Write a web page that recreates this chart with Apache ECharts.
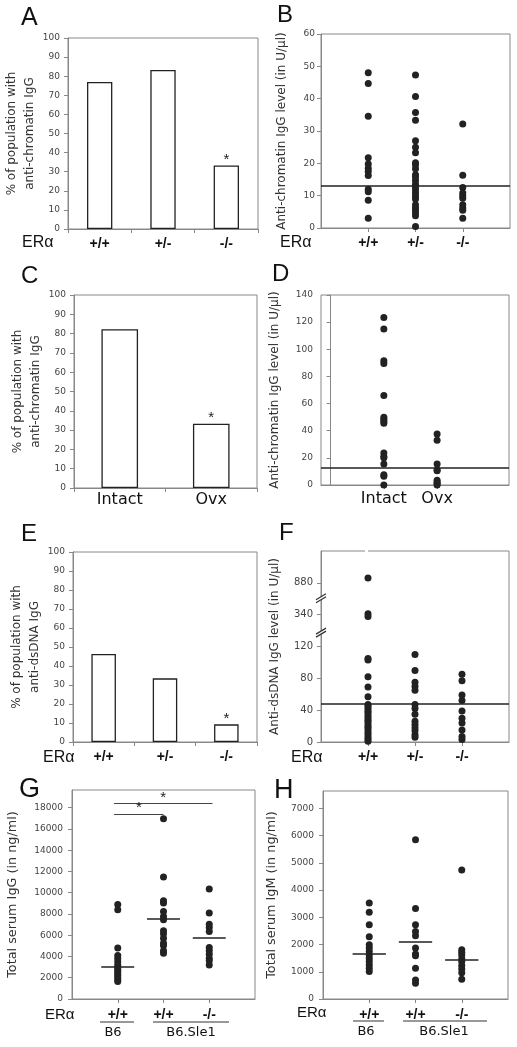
<!DOCTYPE html>
<html><head><meta charset="utf-8">
<script src="https://cdn.jsdelivr.net/npm/echarts@6/dist/echarts.min.js"></script>
<style>html,body{margin:0;padding:0;background:#fff}#c{width:517px;height:1047px}</style>
</head><body><div id="c"></div>
<script>
// ---------- data ----------
const eraCats = ['+/+', '+/-', '-/-'];
const ovxCats = ['Intact', 'Ovx'];
const igCats = ['+/+', '+/+', '-/-'];

// A
const pctChromatinERa = [77, 83.3, 33.3];
const sigChromatinERa = ['', '', '*'];
// B
const chromatinPP = [48, 44.7, 34.6, 21.7, 19.8, 18.5, 17.5, 16.2, 12, 11.2, 8.6, 3];
const chromatinPM = [47.3, 40.7, 35.7, 33.3, 27, 25, 23.3, 20.2, 19.6, 18.3, 16.5, 15.8, 14.7, 13.5, 12.7, 11.8, 10.8, 9.8, 9, 7.2, 6.3, 5.5, 4.7, 3.8, 0.5];
const chromatinMM = [32.2, 16.3, 12.5, 10.8, 10, 9.2, 7.2, 6.2, 5.5, 3];
const chromatinCutoff = 13;
// C
const pctChromatinOvx = [82.3, 33.3];
const sigChromatinOvx = ['', '*'];
// D
const chromatinIntact = [123.5, 115, 91.5, 89.5, 66, 50, 48.5, 47, 45.5, 23.5, 21, 20, 15.5, 7.5, 6.5, 0];
const chromatinOvx = [37.5, 33, 15.5, 11, 10.5, 3.5, 2, 1, 0];
// E
const pctDsdnaERa = [46.3, 33.5, 9.3];
const sigDsdnaERa = ['', '', '*'];
// F
const dsdnaPP = [960, 355, 328, 105, 103, 82, 69, 57, 47, 45, 42, 39, 37, 34, 31, 28, 26, 23, 20, 18, 15, 12, 9, 6, 3, 1];
const dsdnaPM = [110, 90, 75, 70, 65, 47, 42, 35, 26, 22, 18, 14, 9, 6];
const dsdnaMM = [85, 77, 59, 52, 39, 30, 24, 15, 7, 3];
const dsdnaCutoff = 48;
const dsdnaTicks = [0, 40, 80, 120, 340, 880];
// G
const iggB6 = [8900, 8400, 4800, 4100, 3800, 3500, 3200, 3000, 2800, 2600, 2400, 2200, 2000, 1800, 1650];
const iggSle1PP = [16950, 11480, 9250, 9030, 8240, 7770, 7450, 6420, 6130, 5720, 5250, 5030, 4530, 4310];
const iggSle1MM = [10350, 8080, 7040, 6730, 6350, 4840, 4530, 4210, 3840, 3590, 3210];
const iggMedians = [3080, 7550, 5750];
const iggTicks = [0, 2000, 4000, 6000, 8000, 10000, 12000, 14000, 16000, 18000];
// H
const igmB6 = [3530, 3190, 2730, 2290, 1990, 1870, 1745, 1620, 1500, 1380, 1250, 1130, 1010];
const igmSle1PP = [5850, 3320, 2730, 2480, 2320, 1870, 1650, 1585, 1130, 700, 580];
const igmSle1MM = [4740, 1810, 1720, 1620, 1475, 1380, 1230, 1105, 960, 725];
const igmMedians = [1670, 2100, 1440];
const igmTicks = [0, 1000, 2000, 3000, 4000, 5000, 6000, 7000];

// ---------- helpers ----------
const FONT = 'DejaVu Sans';
const SANS = 'Liberation Sans';
const AX = '#888';
const INK = '#222';

function brk(v) { // broken-axis transform for panel F
  if (v <= 120) return v / 40;
  if (v <= 340) return 3 + (v - 120) / 220;
  return 4 + (v - 340) / 540;
}

function yAxisV(gi, min, max, interval, name, gap, margin, nameSize, extra) {
  const a = {
    type: 'value', gridIndex: gi, min: min, max: max,
    splitLine: { show: false },
    axisLine: { show: true, lineStyle: { color: AX, width: 1 } },
    axisTick: { show: true, length: 4, lineStyle: { color: AX } },
    axisLabel: { fontSize: 9, color: '#444', fontFamily: FONT, margin: margin, formatter: v => String(v) },
    name: name, nameLocation: 'middle', nameRotate: 90, nameGap: gap,
    nameTextStyle: { fontSize: nameSize, color: '#333', fontFamily: FONT, lineHeight: 18 }
  };
  if (interval) a.interval = interval;
  if (extra) extra(a);
  return a;
}
function xAxisCat(gi, data, fs, margin, font) {
  return {
    type: 'category', gridIndex: gi, data: data,
    axisLine: { lineStyle: { color: AX } },
    axisTick: { show: true, length: 4, lineStyle: { color: AX } },
    axisLabel: { fontSize: fs, color: '#111', fontFamily: font, margin: margin, fontWeight: font === SANS ? 'bold' : 'normal' },
    splitLine: { show: false }
  };
}
function xAxisPos(gi, min, max, vals, labels, fs, margin, font) {
  return {
    type: 'value', gridIndex: gi, min: min, max: max,
    splitLine: { show: false },
    axisLine: { lineStyle: { color: AX } },
    axisTick: { show: true, length: 4, customValues: vals, lineStyle: { color: AX } },
    axisLabel: {
      customValues: vals, fontSize: fs, color: '#111', fontFamily: font, margin: margin,
      fontWeight: font === SANS ? 'bold' : 'normal',
      formatter: function (v) {
        const i = vals.findIndex(p => Math.abs(p - v) < 1e-6);
        return i >= 0 ? labels[i] : '';
      }
    }
  };
}
function barSeries(gi, vals, sig) {
  return {
    type: 'bar', xAxisIndex: gi, yAxisIndex: gi, barWidth: '40%',
    itemStyle: { color: '#fff', borderColor: INK, borderWidth: 1.3 },
    label: { show: false, position: 'top', fontSize: 15, color: INK, distance: -2, fontFamily: SANS },
    data: vals.map((v, i) => ({ value: v, label: { show: !!sig[i], formatter: sig[i] } }))
  };
}
function dots(gi, groups, offset, tf) {
  const data = [];
  groups.forEach((g, i) => g.forEach(v => data.push([i + offset, tf ? tf(v) : v])));
  return { type: 'scatter', xAxisIndex: gi, yAxisIndex: gi, symbolSize: 7, itemStyle: { color: INK, opacity: 1 }, data: data };
}
function cutoffLine(y) {
  return { silent: true, symbol: ['none', 'none'], label: { show: false },
    lineStyle: { color: INK, width: 1.5, type: 'solid' }, data: [{ yAxis: y }] };
}
function medianLines(meds, half) {
  return { silent: true, symbol: ['none', 'none'], label: { show: false },
    lineStyle: { color: INK, width: 1.6, type: 'solid' },
    data: meds.map((m, i) => [{ coord: [i + 1 - half, m] }, { coord: [i + 1 + half, m] }]) };
}

const grids = [
  { left: 68, top: 38, width: 190, height: 191 },   // A
  { left: 321, top: 34, width: 189, height: 194 },  // B
  { left: 74, top: 295, width: 183, height: 193 },  // C
  { left: 321, top: 295, width: 188, height: 190 }, // D
  { left: 73, top: 552, width: 184, height: 190 },  // E
  { left: 321, top: 551, width: 188, height: 191 }, // F
  { left: 72, top: 790, width: 183, height: 209 },  // G
  { left: 323, top: 791, width: 185, height: 208 }  // H
].map(g => Object.assign({ show: true, borderColor: AX, borderWidth: 1, backgroundColor: 'transparent' }, g));

const xAxes = [
  xAxisCat(0, eraCats, 14, 8, SANS),
  xAxisPos(1, 0, 4, [1, 2, 3], eraCats, 14, 8, SANS),
  xAxisCat(2, ovxCats, 16, 4, FONT),
  xAxisPos(3, -0.18, 3.35, [1, 2], ovxCats, 16, 6, FONT),
  xAxisCat(4, eraCats, 14, 8, SANS),
  xAxisPos(5, 0, 4, [1, 2, 3], eraCats, 14, 8, SANS),
  xAxisPos(6, 0, 4, [1, 2, 3], igCats, 14, 9, SANS),
  xAxisPos(7, 0, 4, [1, 2, 3], igCats, 14, 9, SANS)
];

const yAxes = [
  yAxisV(0, 0, 100, 10, '% of population with\nanti-chromatin IgG', 28, 8, 12),
  yAxisV(1, 0, 60, 10, 'Anti-chromatin IgG level (in U/\u03bcl)', 30, 6, 12),
  yAxisV(2, 0, 100, 10, '% of population with\nanti-chromatin IgG', 29, 8, 12),
  yAxisV(3, 0, 140, 20, 'Anti-chromatin IgG level (in U/\u03bcl)', 37, 8, 12),
  yAxisV(4, 0, 100, 10, '% of population with\nanti-dsDNA IgG', 29, 8, 12),
  yAxisV(5, 0, 6, null, 'Anti-dsDNA IgG level (in U/\u03bcl)', 37, 8, 12, a => {
    const pos = dsdnaTicks.map(brk);
    a.axisTick.customValues = pos;
    a.axisLabel.customValues = pos;
    a.axisLabel.fontSize = 10;
    a.axisLabel.formatter = v => { const i = pos.findIndex(p => Math.abs(p - v) < 1e-6); return i >= 0 ? String(dsdnaTicks[i]) : ''; };
  }),
  yAxisV(6, 0, 19660, null, 'Total serum IgG (in ng/ml)', 50, 9, 12.8, a => {
    a.axisTick.customValues = iggTicks; a.axisLabel.customValues = iggTicks;
  }),
  yAxisV(7, 0, 7640, null, 'Total serum IgM (in ng/ml)', 42, 9, 12.8, a => {
    a.axisTick.customValues = igmTicks; a.axisLabel.customValues = igmTicks;
  })
];

const sB = dots(1, [chromatinPP, chromatinPM, chromatinMM], 1); sB.markLine = cutoffLine(chromatinCutoff);
const sD = dots(3, [chromatinIntact, chromatinOvx], 1); sD.markLine = cutoffLine(chromatinCutoff);
const sF = dots(5, [dsdnaPP, dsdnaPM, dsdnaMM], 1, brk); sF.markLine = cutoffLine(brk(dsdnaCutoff));
const sG = dots(6, [iggB6, iggSle1PP, iggSle1MM], 1); sG.markLine = medianLines(iggMedians, 0.36);
const sH = dots(7, [igmB6, igmSle1PP, igmSle1MM], 1); sH.markLine = medianLines(igmMedians, 0.36);
const sGsig = {
  type: 'scatter', xAxisIndex: 6, yAxisIndex: 6, data: [],
  markLine: {
    silent: true, symbol: ['none', 'none'],
    lineStyle: { color: '#444', width: 1, type: 'solid' },
    label: { show: true, position: 'insideMiddleTop', formatter: '*', fontSize: 15, color: INK, fontFamily: SANS, distance: -2 },
    data: [
      [{ coord: [0.92, 18400] }, { coord: [3.07, 18400] }],
      [{ coord: [0.92, 17420] }, { coord: [2.0, 17420] }]
    ]
  }
};

const series = [
  barSeries(0, pctChromatinERa, sigChromatinERa), sB,
  barSeries(2, pctChromatinOvx, sigChromatinOvx), sD,
  barSeries(4, pctDsdnaERa, sigDsdnaERa), sF,
  sG, sGsig, sH
];

function txt(x, y, s, fs, font, align) {
  return { type: 'text', x: x, y: y, silent: true,
    style: { text: s, fontSize: fs, fontFamily: font || SANS, fill: '#111', align: align || 'left', verticalAlign: 'middle' } };
}
function hline(x1, x2, y) {
  return { type: 'line', silent: true, shape: { x1: x1, y1: y, x2: x2, y2: y }, style: { stroke: '#333', lineWidth: 1 } };
}

const graphic = [
  txt(21, 18, 'A', 25), txt(277, 15, 'B', 24), txt(21, 276, 'C', 24), txt(272, 274, 'D', 24),
  txt(21, 534, 'E', 24), txt(279, 533, 'F', 24), txt(19, 790, 'G', 27), txt(274, 791, 'H', 27),
  txt(22, 243, 'ER\u03b1', 16), txt(280, 243, 'ER\u03b1', 16),
  txt(43, 758, 'ER\u03b1', 16), txt(291, 758, 'ER\u03b1', 16),
  txt(45, 1015, 'ER\u03b1', 15), txt(297, 1013, 'ER\u03b1', 15),
  hline(100, 134, 1022), hline(153, 229, 1022),
  hline(353, 384, 1021), hline(403, 487, 1021),
  txt(113, 1033, 'B6', 13, FONT, 'center'), txt(191, 1033, 'B6.Sle1', 13, FONT, 'center'),
  txt(366, 1032, 'B6', 13, FONT, 'center'), txt(444, 1032, 'B6.Sle1', 13, FONT, 'center'),
  { type: 'rect', silent: true, shape: { x: 365, y: 548, width: 3, height: 5 }, style: { fill: '#fff' } }
];

const chart = echarts.init(document.getElementById('c'), null, { renderer: 'canvas' });
chart.setOption({
  animation: false, backgroundColor: '#fff',
  grid: grids, xAxis: xAxes, yAxis: yAxes, series: series, graphic: graphic
});

// break marks on F's y axis, positioned through the axis scale
const breaks = [3.42, 4.5];
const extra = [];
breaks.forEach(b => {
  const p = chart.convertToPixel({ gridIndex: 5 }, [0, b]);
  const x = p[0], y = p[1];
  extra.push({ type: 'polygon', silent: true, z: 100,
    shape: { points: [[x - 5, y + 4], [x + 5, y - 2], [x + 5, y - 5], [x - 5, y + 1]] }, style: { fill: '#fff' } });
  extra.push({ type: 'line', silent: true, z: 101, shape: { x1: x - 5, y1: y + 4, x2: x + 5, y2: y - 2 }, style: { stroke: '#333', lineWidth: 1.2 } });
  extra.push({ type: 'line', silent: true, z: 101, shape: { x1: x - 5, y1: y + 1, x2: x + 5, y2: y - 5 }, style: { stroke: '#333', lineWidth: 1.2 } });
});
chart.setOption({ graphic: graphic.concat(extra) });
</script>
</body></html>
